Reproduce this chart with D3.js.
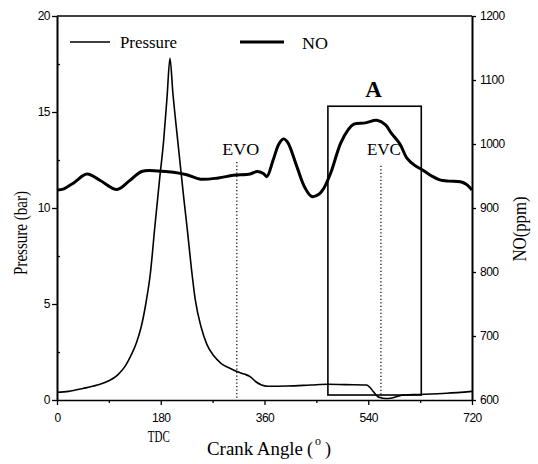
<!DOCTYPE html>
<html>
<head>
<meta charset="utf-8">
<script src="https://cdn.jsdelivr.net/npm/d3@7"></script>
<style>
  html, body { margin: 0; padding: 0; background: #fff; }
  svg { display: block; }
  .tick text { font-family: "Liberation Sans", Arial, sans-serif; font-size: 12px; fill: #000; letter-spacing: -0.5px; }
  .serif { font-family: "Liberation Serif", "Times New Roman", serif; fill: #000; }
</style>
</head>
<body>
<svg id="chart" width="538" height="464"></svg>
<script>
// ---------- data ----------
const angleTicks = [0, 180, 360, 540, 720];
const angleMinorTicks = [90, 270, 450, 630];
const pressureTicks = [0, 5, 10, 15, 20];
const pressureMinorTicks = [2.5, 7.5, 12.5, 17.5];
const noTicks = [600, 700, 800, 900, 1000, 1100, 1200];

const pressureAngle = [0, 20, 45, 70, 90, 105, 118, 128, 138, 146, 154, 162, 170, 178, 185, 191, 196,
  201, 207, 213, 220, 226, 233, 240, 250, 260, 272, 285, 300, 312, 325, 335, 345, 355, 365,
  400, 440, 470, 500, 537, 543, 549, 555, 560, 570, 578, 590, 601, 630, 676, 720];
const pressureValues = [0.40, 0.45, 0.60, 0.78, 1.0, 1.3, 1.75, 2.3, 3.0, 3.8, 5.0, 6.6, 9.1, 11.5, 13.5, 15.8, 17.8,
  16.0, 14.2, 12.5, 10.5, 8.9, 6.9, 5.2, 3.8, 2.9, 2.3, 1.9, 1.65, 1.48, 1.35, 1.22, 0.95, 0.78, 0.72,
  0.73, 0.78, 0.82, 0.80, 0.78, 0.65, 0.43, 0.22, 0.13, 0.08, 0.09, 0.18, 0.26, 0.29, 0.35, 0.45];

const noAngle = [0, 12, 30, 52, 75, 104, 125, 147, 175, 202, 225, 249, 280, 306, 335, 347, 358, 364,
  375, 385, 393, 400, 416, 430, 442, 455, 463, 475, 492, 505, 515, 535, 555, 570, 580, 595,
  607, 620, 635, 650, 664, 680, 700, 710, 720];
const noValues = [928, 930, 940, 953, 943, 929, 942, 957, 958, 956, 952, 945, 947, 951, 953, 957, 954, 949,
  975, 1000, 1008, 1003, 965, 932, 918, 922, 931, 955, 1001, 1022, 1031, 1033, 1037, 1030, 1017, 1000,
  978, 967, 959, 950, 944, 942, 941, 937, 928];

const seriesNames = ["Pressure", "NO"];
const markerNames = ["EVO", "EVC"];
const markerAngles = [312, 562];
const markerTops = [12.4, 12.2];
const boxAngles = [470, 632];
const boxPressures = [0.26, 15.3];
const boxLabel = "A";

// ---------- layout ----------
const svg = d3.select("#chart");
const L = 57, R = 472, T = 16, B = 400;

const x = d3.scaleLinear().domain([0, 720]).range([L, R]);
const yP = d3.scaleLinear().domain([0, 20]).range([B, T]);
const yN = d3.scaleLinear().domain([600, 1200]).range([B, T]);

function serifText(str, size, len) {
  return svg.append("text").attr("class", "serif").attr("font-size", size)
    .attr("textLength", len).attr("lengthAdjust", "spacingAndGlyphs").text(str);
}

// ---------- frame / axes ----------
svg.append("line").attr("x1", L).attr("x2", R).attr("y1", T).attr("y2", T)
  .attr("stroke", "#000").attr("stroke-width", 1.5);

function styleAxis(g, w) {
  g.select(".domain").attr("stroke", "#000").attr("stroke-width", w);
  g.selectAll(".tick line").attr("stroke", "#000").attr("stroke-width", 1.3);
}

// bottom
const gBm = svg.append("g").attr("transform", `translate(0,${B})`)
  .call(d3.axisBottom(x).tickValues(angleMinorTicks).tickSize(3).tickFormat(""));
gBm.select(".domain").remove();
gBm.selectAll(".tick line").attr("stroke", "#000").attr("stroke-width", 1.3);
const gB = svg.append("g").attr("transform", `translate(0,${B})`)
  .call(d3.axisBottom(x).tickValues(angleTicks).tickSize(5).tickSizeOuter(0).tickPadding(8).tickFormat(d3.format("d")));
styleAxis(gB, 1.6);

// left
const gLm = svg.append("g").attr("transform", `translate(${L},0)`)
  .call(d3.axisLeft(yP).tickValues(pressureMinorTicks).tickSize(-3).tickFormat(""));
gLm.select(".domain").remove();
gLm.selectAll(".tick line").attr("stroke", "#000").attr("stroke-width", 1.3);
const gL = svg.append("g").attr("transform", `translate(${L},0)`)
  .call(d3.axisLeft(yP).tickValues(pressureTicks).tickSize(5).tickSizeOuter(0).tickPadding(2).tickFormat(d3.format("d")));
styleAxis(gL, 2);

// right
const gR = svg.append("g").attr("transform", `translate(${R},0)`)
  .call(d3.axisRight(yN).tickValues(noTicks).tickSize(4).tickSizeOuter(0).tickPadding(4).tickFormat(d3.format("d")));
styleAxis(gR, 2);

// ---------- box A ----------
svg.append("rect")
  .attr("x", x(boxAngles[0])).attr("y", yP(boxPressures[1]))
  .attr("width", x(boxAngles[1]) - x(boxAngles[0]))
  .attr("height", yP(boxPressures[0]) - yP(boxPressures[1]))
  .attr("fill", "none").attr("stroke", "#000").attr("stroke-width", 1.6);
svg.append("text").attr("class", "serif")
  .attr("x", x((boxAngles[0] + boxAngles[1]) / 2) - 1).attr("y", 97)
  .attr("text-anchor", "middle").attr("font-size", 23).attr("font-weight", "bold")
  .text(boxLabel);

// ---------- EVO / EVC markers ----------
markerNames.forEach((name, i) => {
  svg.append("line")
    .attr("x1", x(markerAngles[i])).attr("x2", x(markerAngles[i]))
    .attr("y1", yP(markerTops[i])).attr("y2", yP(0.1))
    .attr("stroke", "#000").attr("stroke-width", 1.2).attr("stroke-dasharray", "1.3,2.2");
  serifText(name, 17, i === 0 ? 37 : 34)
    .attr("text-anchor", "middle")
    .attr("x", x(markerAngles[i]) + (i === 0 ? 4 : 3)).attr("y", 155);
});

// ---------- curves ----------
const pressureData = pressureAngle.map((a, i) => [a, pressureValues[i]]);
const noData = noAngle.map((a, i) => [a, noValues[i]]);

svg.append("path").datum(pressureData)
  .attr("fill", "none").attr("stroke", "#000").attr("stroke-width", 1.6)
  .attr("d", d3.line().x(d => x(d[0])).y(d => yP(d[1])).curve(d3.curveMonotoneX));

svg.append("path").datum(noData)
  .attr("fill", "none").attr("stroke", "#000").attr("stroke-width", 3).attr("stroke-linejoin", "round")
  .attr("d", d3.line().x(d => x(d[0])).y(d => yN(d[1])).curve(d3.curveCatmullRom.alpha(0.5)));

// ---------- legend ----------
svg.append("line").attr("x1", 70).attr("x2", 110).attr("y1", 42).attr("y2", 42)
  .attr("stroke", "#000").attr("stroke-width", 1.6);
serifText(seriesNames[0], 17, 57).attr("x", 120).attr("y", 48);
svg.append("line").attr("x1", 240).attr("x2", 284).attr("y1", 42).attr("y2", 42)
  .attr("stroke", "#000").attr("stroke-width", 3);
serifText(seriesNames[1], 17, 26).attr("x", 302).attr("y", 49);

// ---------- axis titles ----------
serifText("TDC", 16, 22).attr("text-anchor", "middle").attr("x", x(180) - 2).attr("y", 442);

serifText("Crank Angle", 18, 96).attr("x", 207).attr("y", 455);
serifText("(", 18, 6).attr("x", 307).attr("y", 455);
svg.append("text").attr("class", "serif").attr("font-size", 12)
  .attr("x", 315).attr("y", 445).text("o");
serifText(")", 18, 6).attr("x", 325).attr("y", 455);

serifText("Pressure (bar)", 18, 84).attr("text-anchor", "middle")
  .attr("transform", "translate(27,233) rotate(-90)");

serifText("NO(ppm)", 18, 65).attr("text-anchor", "middle")
  .attr("transform", "translate(526,229) rotate(-90)");
</script>
</body>
</html>
